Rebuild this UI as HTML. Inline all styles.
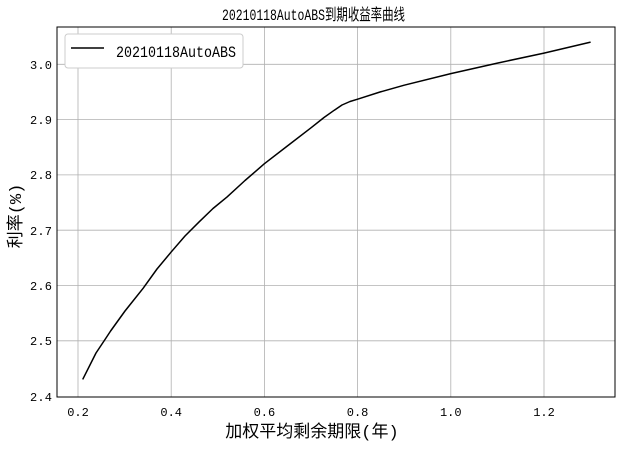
<!DOCTYPE html>
<html><head><meta charset="utf-8"><style>body{margin:0;background:#fff}</style></head><body>
<svg width="625" height="444" xmlns="http://www.w3.org/2000/svg" font-family="'Liberation Mono','Noto Sans CJK SC',monospace">
<rect width="625" height="444" fill="#fff"/>
<g stroke="#b0b0b0" stroke-width="0.8">
<line x1="78" y1="27" x2="78" y2="397"/><line x1="171.2" y1="27" x2="171.2" y2="397"/><line x1="264.4" y1="27" x2="264.4" y2="397"/><line x1="357.6" y1="27" x2="357.6" y2="397"/><line x1="450.8" y1="27" x2="450.8" y2="397"/><line x1="544" y1="27" x2="544" y2="397"/>
<line x1="57" y1="64.3" x2="615" y2="64.3"/><line x1="57" y1="119.6" x2="615" y2="119.6"/><line x1="57" y1="174.9" x2="615" y2="174.9"/><line x1="57" y1="230.2" x2="615" y2="230.2"/><line x1="57" y1="285.5" x2="615" y2="285.5"/><line x1="57" y1="340.8" x2="615" y2="340.8"/>
</g>
<rect x="57" y="27" width="558" height="370" fill="none" stroke="#000" stroke-width="1"/>
<polyline fill="none" stroke="#000" stroke-width="1.5" stroke-linejoin="round" points="82.7,379.4 96,353 106,338 110.6,331 125,311 143.2,288.2 157,269 171,252.2 185,236 199.2,221.8 213,208.5 227.1,196.9 245,180.5 264.4,163.7 288,145.5 311,127.8 324,117.5 334.3,110.2 342,105 350,101.5 357.6,99.2 380,92 404.2,85.2 450.8,73.6 497.4,63.1 544,53.1 590.6,42.1"/>
<g font-size="12" fill="#000" text-anchor="end">
<text x="52" y="69" textLength="22">3.0</text><text x="52" y="124" textLength="22">2.9</text><text x="52" y="179" textLength="22">2.8</text><text x="52" y="235" textLength="22">2.7</text><text x="52" y="290" textLength="22">2.6</text><text x="52" y="345" textLength="22">2.5</text><text x="52" y="401" textLength="22">2.4</text>
</g>
<g font-size="12" fill="#000" text-anchor="middle">
<text x="78" y="416">0.2</text><text x="171.2" y="416">0.4</text><text x="264.4" y="416">0.6</text><text x="357.6" y="416">0.8</text><text x="450.8" y="416">1.0</text><text x="544" y="416">1.2</text>
</g>
<text x="222" y="20" font-size="16" textLength="183" lengthAdjust="spacingAndGlyphs">20210118AutoABS到期收益率曲线</text>
<text x="312" y="437" font-size="17" text-anchor="middle">加权平均剩余期限(年)</text>
<text transform="translate(21,216) rotate(-90)" font-size="17" text-anchor="middle">利率(%)</text>
<rect x="65" y="34" width="178" height="34" rx="3" fill="#fff" stroke="#ccc"/>
<line x1="71" y1="48" x2="104" y2="48" stroke="#000" stroke-width="1.5"/>
<text x="116" y="57" font-size="16" textLength="120" lengthAdjust="spacingAndGlyphs">20210118AutoABS</text>
</svg>
</body></html>
